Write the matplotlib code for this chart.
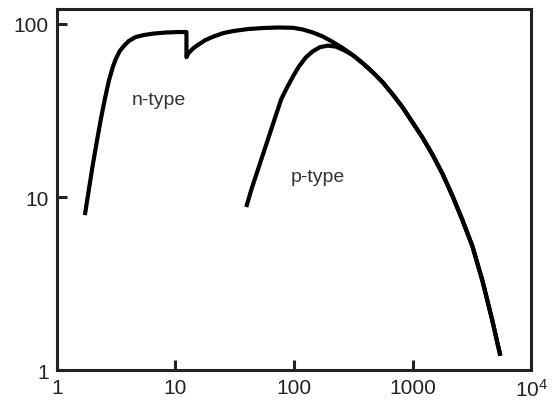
import matplotlib
matplotlib.use("Agg")
import matplotlib.pyplot as plt
import numpy as np

plt.rcParams['font.family'] = ['Liberation Sans', 'DejaVu Sans']
plt.rcParams['mathtext.default'] = 'regular'

# n-type curve
n_x = [1.72, 1.857, 2.007, 2.169, 2.343, 2.532, 2.735, 2.955, 3.132, 3.383, 3.656, 4.027, 4.613,
       5.384, 6.535, 8.241, 10.60, 12.37,
       12.37, 12.86, 14.17, 15.61, 17.87, 20.86, 25.31, 30.72, 41.07, 54.90, 73.37, 98.1, 119.0,
       144.4, 175.3, 212.7, 258.1, 313.2, 380.0, 461.2, 559.6, 679.1, 824.1, 1000, 1213, 1473,
       1787, 2169, 2632, 3193, 3875, 4702, 5489]
n_y = [7.86, 10.98, 15.35, 20.88, 28.04, 36.64, 46.63, 56.23, 62.60, 69.66, 74.49, 79.64, 84.03,
       86.30, 88.05, 89.25, 89.84, 89.84,
       64.29, 67.82, 72.52, 76.03, 80.72, 84.60, 88.62, 91.06, 93.52, 94.78, 95.43, 95.04, 92.90,
       89.25, 84.60, 78.59, 72.52, 66.04, 59.33, 52.60, 46.00, 39.17, 32.92, 26.93, 22.03, 17.54,
       13.61, 10.13, 7.35, 5.19, 3.29, 1.93, 1.21]

# p-type curve, joins the n-type curve near x ~ 300
p_x = [39.51, 43.52, 47.94, 52.81, 58.17, 64.09, 70.60, 77.78, 87.35, 98.08, 110.2, 126.1, 144.4,
       165.4, 193.1, 225.4, 263.2, 313.2, 380.0, 461.2, 559.6, 679.1, 824.1, 1000, 1213, 1473,
       1787, 2169, 2632, 3193, 3875, 4702, 5489]
p_y = [8.75, 10.98, 13.43, 16.41, 20.06, 24.52, 29.97, 36.64, 43.02, 49.85, 57.00, 64.29, 69.66,
       73.48, 74.99, 74.00, 70.61, 66.04, 59.33, 52.60, 46.00, 39.17, 32.92, 26.93, 22.03, 17.54,
       13.61, 10.13, 7.35, 5.19, 3.29, 1.93, 1.21]

x_ticks = [1, 10, 100, 1000, 10000]
x_labels = ['1', '10', '100', '1000', '$10^4$']
y_ticks = [1, 10, 100]
y_labels = ['1', '10', '100']

fig = plt.figure(figsize=(5.58, 4.02), dpi=100)
ax = fig.add_axes([0.102, 0.077, 0.850, 0.898])

ax.plot(n_x, n_y, color='black', lw=3, solid_capstyle='butt', solid_joinstyle='round')
ax.plot(p_x, p_y, color='black', lw=3, solid_capstyle='butt', solid_joinstyle='round')

ax.set_xscale('log')
ax.set_yscale('log')
ax.set_xlim(1, 1e4)
ax.set_ylim(1, 122)

ax.set_xticks(x_ticks)
ax.set_xticklabels(x_labels)
ax.set_yticks(y_ticks)
ax.set_yticklabels(y_labels)
ax.minorticks_off()

ax.tick_params(direction='in', length=7, width=2.2, labelsize=15, colors='#222222')
ax.tick_params(axis='x', pad=6)
ax.tick_params(axis='y', pad=6)
for s in ax.spines.values():
    s.set_linewidth(2.2)
    s.set_color('#222222')

ax.text(7.2, 36.6, 'n-type', fontsize=14, color='#333333', ha='center', va='center')
ax.text(159, 13.1, 'p-type', fontsize=14, color='#333333', ha='center', va='center')

fig.savefig('out.png', dpi=100)
